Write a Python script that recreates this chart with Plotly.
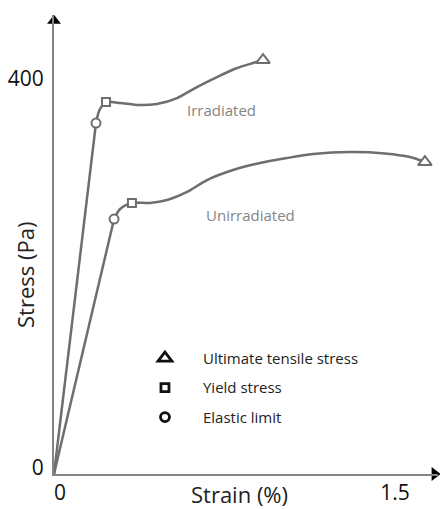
import plotly.graph_objects as go

# ---- data (strain in %, stress in Pa) ----
irr_elastic_strain = [0.0, 0.188]
irr_elastic_stress = [0.0, 360.9]
irr_plastic_strain = [0.188, 0.204, 0.233, 0.296, 0.385, 0.461, 0.551, 0.640, 0.730, 0.820, 0.891, 0.936]
irr_plastic_stress = [360.9, 374.4, 382.5, 381.5, 379.4, 380.5, 386.6, 397.9, 408.2, 417.5, 422.6, 425.7]

unirr_elastic_strain = [0.0, 0.269]
unirr_elastic_stress = [0.0, 262.2]
unirr_plastic_strain = [0.269, 0.296, 0.349, 0.430, 0.506, 0.596, 0.685, 0.802, 0.923, 1.043, 1.160, 1.326, 1.482, 1.594, 1.661]
unirr_plastic_stress = [262.2, 272.5, 278.7, 278.7, 281.7, 290.0, 302.3, 312.6, 319.8, 324.9, 329.0, 331.1, 329.6, 325.9, 320.8]

# key points
irr_elastic_limit = (0.188, 360.9)
irr_yield = (0.233, 382.5)
irr_uts = (0.936, 425.7)
unirr_elastic_limit = (0.269, 262.2)
unirr_yield = (0.349, 278.7)
unirr_uts = (1.661, 320.8)

x_ticks = [0, 1.5]
x_tick_labels = ["0", "1.5"]
y_ticks = [0, 400]
y_tick_labels = ["0", "400"]

legend_labels = ["Ultimate tensile stress", "Yield stress", "Elastic limit"]

X_MAX = 1.7196
Y_MAX = 472.0

CURVE = "#6e6e6e"
FONT = "Open Sans"

fig = go.Figure()

for xs, ys in [(irr_elastic_strain, irr_elastic_stress), (unirr_elastic_strain, unirr_elastic_stress)]:
    fig.add_trace(go.Scatter(x=xs, y=ys, mode="lines", line=dict(color=CURVE, width=2.5),
                             showlegend=False, hoverinfo="skip", cliponaxis=False))
for xs, ys in [(irr_plastic_strain, irr_plastic_stress), (unirr_plastic_strain, unirr_plastic_stress)]:
    fig.add_trace(go.Scatter(x=xs, y=ys, mode="lines", line=dict(color=CURVE, width=2.5, shape="spline", smoothing=0.8),
                             showlegend=False, hoverinfo="skip", cliponaxis=False))

def markers(pts, symbol, size):
    fig.add_trace(go.Scatter(x=[p[0] for p in pts], y=[p[1] for p in pts], mode="markers",
                             marker=dict(symbol=symbol, size=size, color="white",
                                         line=dict(color=CURVE, width=2)),
                             showlegend=False, cliponaxis=False))

markers([irr_elastic_limit, unirr_elastic_limit], "circle", 9)
markers([irr_yield, unirr_yield], "square", 8)
markers([irr_uts, unirr_uts], "triangle-up", 12)

# legend entries (black symbols)
for name, sym, size, grp in [(legend_labels[0], "triangle-up", 12, "a"),
                             (legend_labels[1], "square", 8, "b"),
                             (legend_labels[2], "circle", 9, "c")]:
    fig.add_trace(go.Scatter(x=[None], y=[None], mode="markers", name=name, legendgroup=grp,
                             marker=dict(symbol=sym, size=size, color="white",
                                         line=dict(color="#111111", width=2.8))))

# axis arrowheads
fig.add_trace(go.Scatter(x=[0], y=[Y_MAX - 6], mode="markers", showlegend=False, cliponaxis=False,
                         marker=dict(symbol="triangle-up", size=12, color="#000000")))
fig.add_trace(go.Scatter(x=[X_MAX - 0.015], y=[0], mode="markers", showlegend=False, cliponaxis=False,
                         marker=dict(symbol="triangle-right", size=12, color="#000000")))

fig.update_layout(
    width=440, height=509,
    margin=dict(l=54, r=2, t=15, b=35),
    paper_bgcolor="white", plot_bgcolor="white",
    font=dict(family=FONT, color="#222222"),
    xaxis=dict(range=[0, X_MAX], showgrid=False, zeroline=False, showline=True,
               linecolor="#858585", linewidth=2, tickvals=x_ticks, ticktext=x_tick_labels,
               ticks="", tickfont=dict(size=21, color="#111111"), ticklabelshift=6,
               ticklabelstandoff=-1, automargin=False),
    yaxis=dict(range=[0, Y_MAX], showgrid=False, zeroline=False, showline=True,
               linecolor="#858585", linewidth=2, tickvals=y_ticks, ticktext=y_tick_labels,
               ticks="", tickfont=dict(size=21, color="#111111"), ticklabelshift=-6,
               ticklabelstandoff=4, automargin=False),
    showlegend=True,
    legend=dict(x=0.19, y=0.288, xanchor="left", yanchor="top", bgcolor="rgba(0,0,0,0)",
                font=dict(size=15, color="#222222"), itemwidth=66, tracegroupgap=7),
    annotations=[
        dict(text="Irradiated", x=0.748, y=374.3, xref="x", yref="y", showarrow=False,
             xanchor="center", yanchor="middle", font=dict(size=15, color="#858585")),
        dict(text="Unirradiated", x=0.882, y=266.3, xref="x", yref="y", showarrow=False,
             xanchor="center", yanchor="middle", font=dict(size=15, color="#858585")),
        dict(text="Stress (Pa)", x=-0.0755, y=0.4336, xref="paper", yref="paper", showarrow=False,
             xanchor="center", yanchor="middle", textangle=-90, font=dict(size=22, color="#222222")),
        dict(text="Strain (%)", x=0.484, y=-0.0435, xref="paper", yref="paper", showarrow=False,
             xanchor="center", yanchor="middle", font=dict(size=22, color="#222222")),
    ],
)

fig.write_html("out.html")
